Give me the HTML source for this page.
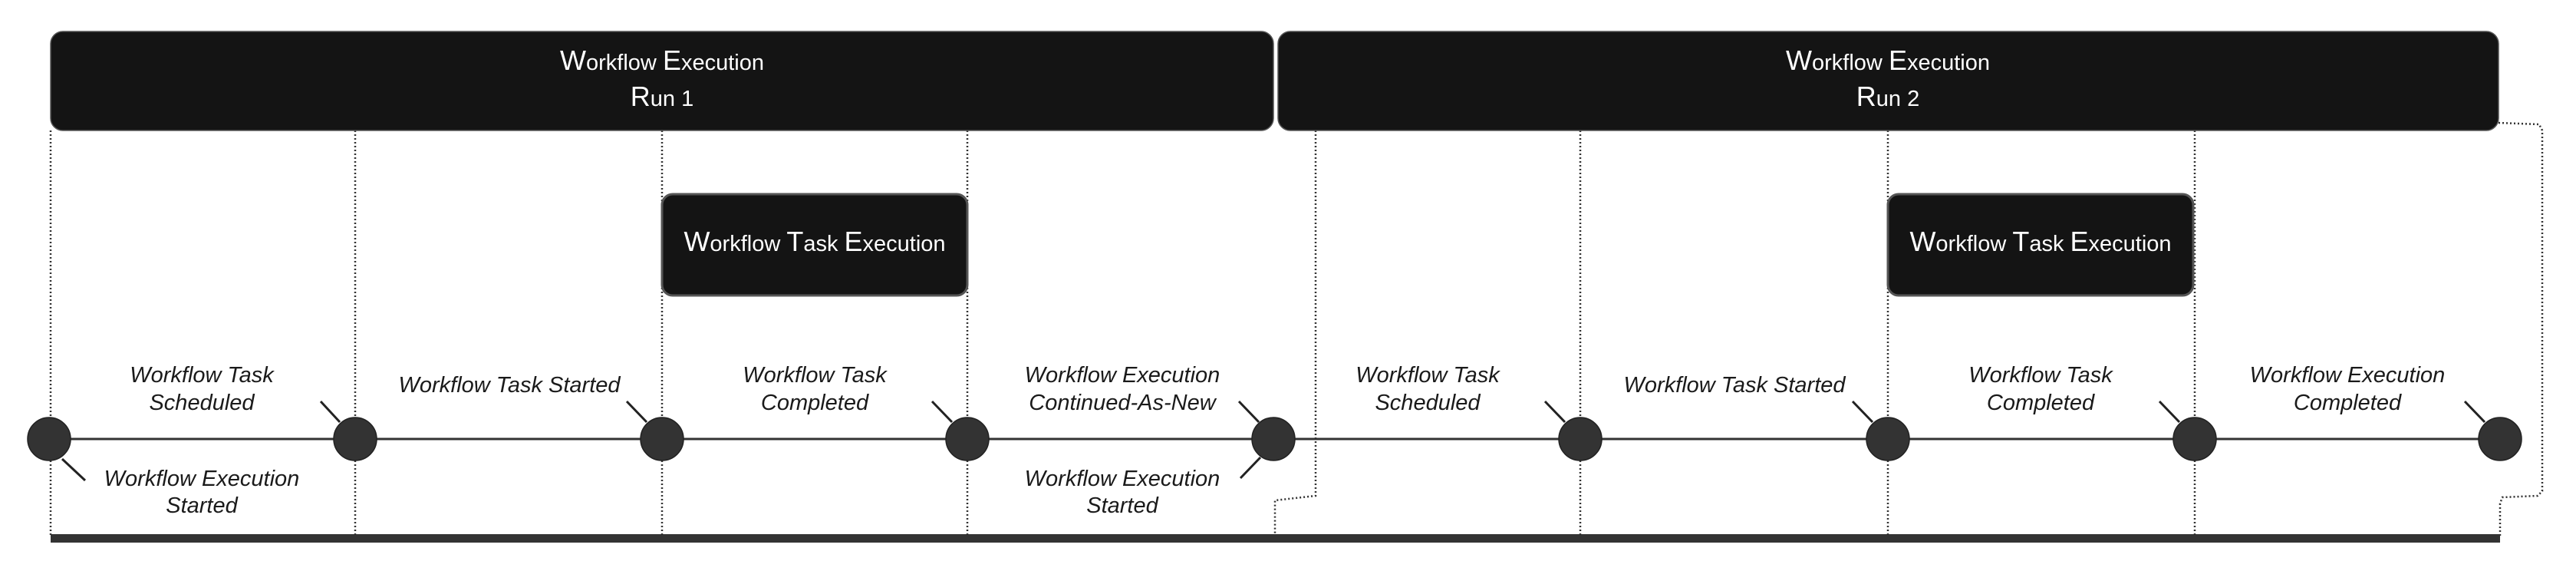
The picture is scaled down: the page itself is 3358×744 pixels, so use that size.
<!DOCTYPE html>
<html><head><meta charset="utf-8"><style>
html,body{margin:0;padding:0;background:#fff;}
svg{display:block}
.l{font-family:"Liberation Sans",Arial,sans-serif;font-style:italic;font-size:29px;fill:#1a1a1a;text-anchor:middle}
.t{font-family:"Liberation Sans",Arial,sans-serif;font-size:29px;fill:#fff;text-anchor:middle}
.t .c{font-size:36px}
</style></head><body>
<svg width="3358" height="744" viewBox="0 0 3358 744" xmlns="http://www.w3.org/2000/svg">
<g stroke="#333" stroke-width="2.5" stroke-dasharray="2,3" fill="none">
<line x1="66" y1="170" x2="66" y2="700"/>
<line x1="463" y1="170" x2="463" y2="700"/>
<line x1="863" y1="170" x2="863" y2="700"/>
<line x1="1261" y1="170" x2="1261" y2="700"/>
<polyline points="1715,170 1715,646 1662,652 1662,700"/>
<line x1="2060" y1="170" x2="2060" y2="700"/>
<line x1="2461" y1="170" x2="2461" y2="700"/>
<line x1="2861" y1="170" x2="2861" y2="700"/>
<polyline points="3257,160 3310,162 3314,170 3314,640 3308,646 3262,648 3259,656 3259,700"/>
</g>
<rect x="66" y="41" width="1594" height="129" rx="16" fill="#141414" stroke="#555" stroke-width="1.5"/>
<rect x="1666" y="41" width="1591" height="129" rx="16" fill="#141414" stroke="#555" stroke-width="1.5"/>
<rect x="863" y="253" width="398" height="132" rx="14" fill="#141414" stroke="#555" stroke-width="3"/>
<rect x="2461" y="253" width="398" height="132" rx="14" fill="#141414" stroke="#555" stroke-width="3"/>
<text class="t" x="863" y="91"><tspan class="c">W</tspan>orkflow <tspan class="c">E</tspan>xecution</text>
<text class="t" x="863" y="138"><tspan class="c">R</tspan>un 1</text>
<text class="t" x="2461" y="91"><tspan class="c">W</tspan>orkflow <tspan class="c">E</tspan>xecution</text>
<text class="t" x="2461" y="138"><tspan class="c">R</tspan>un 2</text>
<text class="t" x="1062" y="327"><tspan class="c">W</tspan>orkflow <tspan class="c">T</tspan>ask <tspan class="c">E</tspan>xecution</text>
<text class="t" x="2660" y="327"><tspan class="c">W</tspan>orkflow <tspan class="c">T</tspan>ask <tspan class="c">E</tspan>xecution</text>
<line x1="64" y1="572" x2="3259" y2="572" stroke="#333" stroke-width="3"/>
<rect x="66" y="696" width="3193" height="11" fill="#333"/>
<g stroke="#222" stroke-width="3">
<line x1="81" y1="598" x2="111" y2="626"/>
<line x1="418" y1="523" x2="443" y2="550"/>
<line x1="817" y1="523" x2="843" y2="550"/>
<line x1="1215" y1="523" x2="1241" y2="550"/>
<line x1="1615" y1="523" x2="1641" y2="550"/>
<line x1="1617" y1="623" x2="1643" y2="596"/>
<line x1="2014" y1="523" x2="2040" y2="550"/>
<line x1="2415" y1="523" x2="2441" y2="550"/>
<line x1="2815" y1="523" x2="2841" y2="550"/>
<line x1="3213" y1="523" x2="3239" y2="550"/>
</g>
<g fill="#333" stroke="#222" stroke-width="1.5">
<ellipse cx="64" cy="572" rx="28" ry="28"/>
<ellipse cx="463" cy="572" rx="28" ry="28"/>
<ellipse cx="863" cy="572" rx="28" ry="28"/>
<ellipse cx="1261" cy="572" rx="28" ry="28"/>
<ellipse cx="1660" cy="572" rx="28" ry="28"/>
<ellipse cx="2060" cy="572" rx="28" ry="28"/>
<ellipse cx="2461" cy="572" rx="28" ry="28"/>
<ellipse cx="2861" cy="572" rx="28" ry="28"/>
<ellipse cx="3259" cy="572" rx="28" ry="28"/>
</g>
<text class="l" x="263" y="498">Workflow Task</text>
<text class="l" x="263" y="534">Scheduled</text>
<text class="l" x="263" y="633">Workflow Execution</text>
<text class="l" x="263" y="668">Started</text>
<text class="l" x="664" y="511">Workflow Task Started</text>
<text class="l" x="1062" y="498">Workflow Task</text>
<text class="l" x="1062" y="534">Completed</text>
<text class="l" x="1463" y="498">Workflow Execution</text>
<text class="l" x="1463" y="534">Continued-As-New</text>
<text class="l" x="1463" y="633">Workflow Execution</text>
<text class="l" x="1463" y="668">Started</text>
<text class="l" x="1861" y="498">Workflow Task</text>
<text class="l" x="1861" y="534">Scheduled</text>
<text class="l" x="2261" y="511">Workflow Task Started</text>
<text class="l" x="2660" y="498">Workflow Task</text>
<text class="l" x="2660" y="534">Completed</text>
<text class="l" x="3060" y="498">Workflow Execution</text>
<text class="l" x="3060" y="534">Completed</text>
</svg>
</body></html>
